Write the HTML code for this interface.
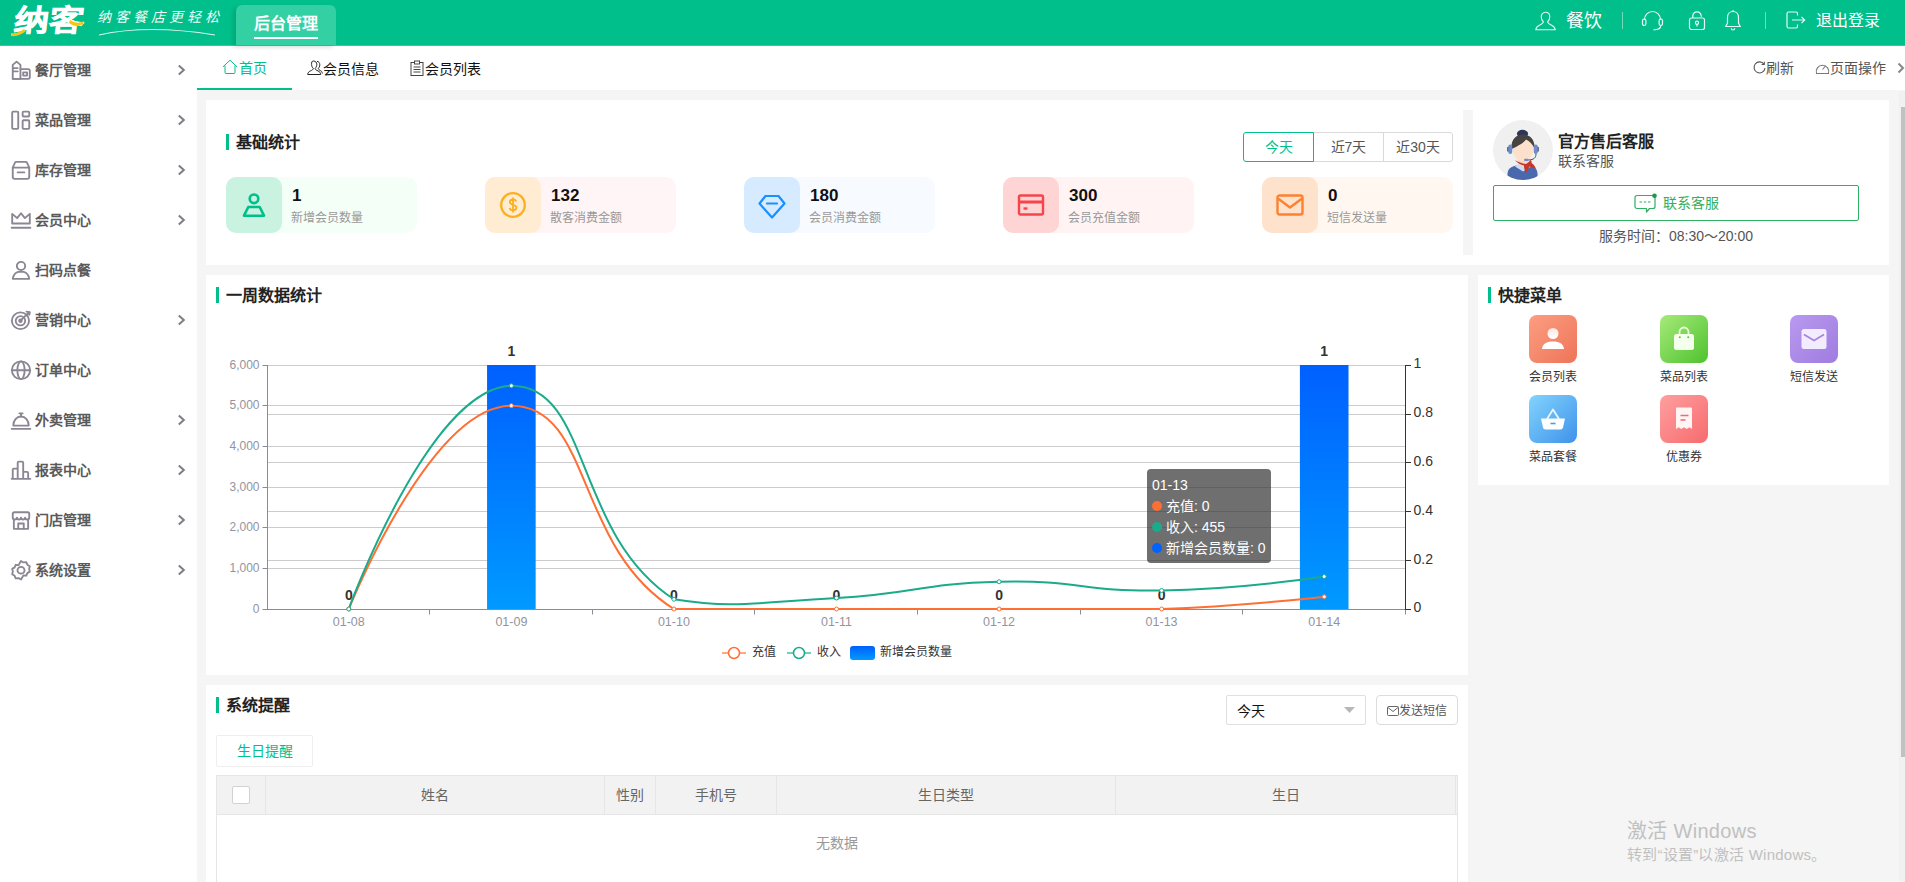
<!DOCTYPE html>
<html lang="zh-CN">
<head>
<meta charset="utf-8">
<title>后台管理</title>
<style>
*{box-sizing:border-box;margin:0;padding:0}
html,body{width:1905px;height:882px;overflow:hidden;background:#f5f5f5}
body{font-family:"Liberation Sans",sans-serif;font-size:14px;color:#333;position:relative}
.abs{position:absolute}
.serif{font-family:"Liberation Serif",serif;font-weight:bold}
svg{display:block;overflow:visible}

/* header */
#hd{position:absolute;left:0;top:0;width:1905px;height:46px;background:#00bf8b;border-bottom:1px solid #3fd268;z-index:5}
#hd .tab{position:absolute;left:236px;top:5px;width:100px;height:40px;background:#33d0a3;border-radius:6px 6px 0 0;box-shadow:-3px 2px 4px rgba(0,60,40,.18);color:#fff;font-size:16px;font-weight:bold;text-align:center;line-height:38px}
#hd .tab i{position:absolute;left:18px;top:32px;width:64px;height:2px;background:#fff}
#hd .t{position:absolute;color:#fff;white-space:nowrap}
#hd .sep{position:absolute;top:12px;width:1px;height:17px;background:rgba(255,255,255,.45)}

/* sidebar */
#sb{position:absolute;left:0;top:45px;width:197px;height:837px;background:#fff}
#sb .it{position:absolute;left:0;width:197px;height:50px}
#sb .it svg.ic{position:absolute;left:10px;top:14px}
#sb .it span{position:absolute;left:35px;top:0;line-height:50px;font-size:14px;font-weight:bold;color:#5a5a5a;white-space:nowrap}
#sb .it svg.ch{position:absolute;left:177px;top:19px}

/* tab bar */
#tb{position:absolute;left:197px;top:45px;width:1708px;height:45px;background:#fff}
#tb .t{position:absolute;white-space:nowrap;font-size:14px;line-height:20px}
#tb .ul{position:absolute;left:0;top:43px;width:95px;height:2px;background:#00bf8b}

.panel{position:absolute;background:#fff}
.ttl{position:absolute;font-size:16px;line-height:20px;color:#222;white-space:nowrap}
.bar{position:absolute;width:3px;height:16px;background:#00bf8b}

/* stats */
.sc{position:absolute;top:77px;width:191px;height:56px;border-radius:10px}
.sc .ib{position:absolute;left:0;top:0;width:56px;height:56px;border-radius:10px}
.sc .ib svg{position:absolute;left:14px;top:14px}
.sc b{position:absolute;left:66px;top:9px;font-size:17px;line-height:20px;color:#111}
.sc span{position:absolute;left:65px;top:33px;font-size:12px;line-height:16px;color:#999;white-space:nowrap}
.bg{position:absolute;top:32px;left:1037px;width:210px;height:30px}
.bg div{position:absolute;top:0;width:71px;height:30px;border:1px solid #d9d9d9;background:#fff;text-align:center;line-height:28px;font-size:14px;color:#555}

#tip i{display:inline-block;width:10px;height:10px;border-radius:5px;margin-right:4px}

/* quick */
.qi{position:absolute;width:48px;height:48px;border-radius:8px}
.qi svg{position:absolute;left:0;top:0}
.ql{position:absolute;width:120px;text-align:center;font-size:12px;line-height:16px;color:#333;white-space:nowrap}
/* reminders */
#tbl{position:absolute;left:10px;top:90px;width:1242px;height:120px;border:1px solid #e6e6e6;background:#fff}
#tbl .h{position:absolute;left:0;top:0;width:1240px;height:39px;background:#f2f2f2;border-bottom:1px solid #e6e6e6}
#tbl .h div{position:absolute;top:0;height:38px;border-right:1px solid #e6e6e6;text-align:center;line-height:38px;font-size:14px;color:#666}
</style>
</head>
<body>

<!-- ================= HEADER ================= -->
<div id="hd">
  <div class="t" style="left:12px;top:3px;font-size:30px;line-height:36px;font-weight:bold;-webkit-text-stroke:.6px #fff;transform:scaleX(1.16) skewX(-6deg);transform-origin:0 100%">纳客</div>
  <svg class="abs" style="left:10px;top:18px" width="76" height="20" viewBox="0 0 76 20"><path d="M1 15 Q8 16 14 11 L16 13 Q9 19 1 18Z" fill="#f5c518"/><path d="M60 2 Q67 7 74 3 L73 6 Q66 11 59 5Z" fill="#f5c518"/></svg>
  <div class="t serif" style="left:97px;top:8px;font-size:14px;line-height:20px;font-style:italic;font-weight:normal;letter-spacing:4px;opacity:.92">纳客餐店更轻松</div>
  <svg class="abs" style="left:98px;top:27px" width="120" height="10" viewBox="0 0 120 10"><path d="M1 8 Q50 -3 117 8" fill="none" stroke="#fff" stroke-width="1.2" stroke-opacity=".85"/></svg>
  <div class="tab">后台管理<i></i></div>
  <svg class="abs" style="left:1535px;top:11px" width="21" height="20" viewBox="0 0 21 20" fill="none" stroke="#fff" stroke-width="1.1" stroke-opacity=".9"><path d="M10.5 1.2c2.6 0 4.3 2 4.3 4.6 0 2.2-1 4-2.2 5 .2 1.6 1.6 2.4 4 3.4 2 .9 3.4 2 3.6 4.6H.8c.2-2.6 1.600-3.700 3.600-4.600 2.400-1 3.800-1.800 4-3.400-1.200-1-2.200-2.800-2.200-5 0-2.600 1.700-4.600 4.300-4.600z"/></svg>
  <div class="t" style="left:1566px;top:9px;font-size:18px;line-height:24px">餐饮</div>
  <div class="sep" style="left:1622px"></div>
  <svg class="abs" style="left:1641px;top:10px" width="23" height="21" viewBox="0 0 23 21" fill="none" stroke="#fff" stroke-width="1.2" stroke-opacity=".9"><path d="M3.500 9.500a8 8 0 0 1 16 0"/><rect x="1.500" y="9" width="3.400" height="6.500" rx="1.700"/><rect x="18.100" y="9" width="3.400" height="6.500" rx="1.700"/><path d="M19.800 15.500c0 3-3 4.300-7.300 4.300"/></svg>
  <svg class="abs" style="left:1688px;top:11px" width="18" height="20" viewBox="0 0 18 20" fill="none" stroke="#fff" stroke-width="1.2" stroke-opacity=".9"><rect x="1.500" y="7" width="15" height="11.500" rx="2"/><path d="M4.800 7V5a4.200 4.200 0 0 1 8.400 0v.8"/><circle cx="9" cy="11.800" r="1.600"/><path d="M9 13.400v2"/></svg>
  <svg class="abs" style="left:1724px;top:9px" width="18" height="22" viewBox="0 0 18 22" fill="none" stroke="#fff" stroke-width="1.200" stroke-opacity=".9"><path d="M9 1v1.500M9 2.500c-3.300 0-5.500 2.500-5.500 6v5.500L1.800 17.500h14.400L14.500 14V8.500c0-3.500-2.200-6-5.500-6z"/><path d="M7.300 19.300a1.700 1.700 0 0 0 3.400 0"/></svg>
  <div class="sep" style="left:1765px"></div>
  <svg class="abs" style="left:1786px;top:11px" width="20" height="18" viewBox="0 0 20 18" fill="none" stroke="#fff" stroke-width="1.200" stroke-opacity=".9"><path d="M11.500 4.500V2.500a1.500 1.500 0 0 0-1.500-1.500H2.500A1.500 1.500 0 0 0 1 2.500v13A1.500 1.500 0 0 0 2.500 17H10a1.500 1.500 0 0 0 1.500-1.500v-2"/><path d="M6 9h12.500M15.500 5.800L18.700 9l-3.200 3.200"/></svg>
  <div class="t" style="left:1816px;top:10px;font-size:16px;line-height:22px">退出登录</div>
</div>

<!-- ================= SIDEBAR ================= -->
<div id="sb">
<div class="it" style="top:0px"><svg class="ic" width="22" height="22.500" preserveAspectRatio="none" viewBox="0 0 20 21" fill="none" stroke="#8b8693" stroke-width="1.7" stroke-linejoin="round" stroke-linecap="round"><path d="M2.500 18.500V5.500l3.500-3 3.500 3v13z"/><path d="M3 8.500h4M3 11.500h4"/><path d="M9.500 9.500h7a1.500 1.500 0 0 1 1.500 1.500v6a1.500 1.500 0 0 1-1.500 1.500h-14"/><rect x="12" y="12.500" width="3.500" height="3"/></svg><span>餐厅管理</span><svg class="ch" width="9" height="12" viewBox="0 0 9 12"><path d="M1.800 1.500L6.800 6 1.800 10.500" fill="none" stroke="#7d7d85" stroke-width="2"/></svg></div>
<div class="it" style="top:50px"><svg class="ic" width="22" height="22.500" preserveAspectRatio="none" viewBox="0 0 20 21" fill="none" stroke="#8b8693" stroke-width="1.7" stroke-linejoin="round" stroke-linecap="round"><rect x="2" y="2.500" width="5.500" height="16" rx="0.800"/><rect x="11.500" y="2.500" width="6" height="4.500" rx="0.800"/><rect x="11.500" y="10.500" width="6" height="8" rx="0.800"/></svg><span>菜品管理</span><svg class="ch" width="9" height="12" viewBox="0 0 9 12"><path d="M1.800 1.500L6.800 6 1.800 10.500" fill="none" stroke="#7d7d85" stroke-width="2"/></svg></div>
<div class="it" style="top:100px"><svg class="ic" width="22" height="22.500" preserveAspectRatio="none" viewBox="0 0 20 21" fill="none" stroke="#8b8693" stroke-width="1.7" stroke-linejoin="round" stroke-linecap="round"><path d="M2.500 8l2-4.500a1.500 1.500 0 0 1 1.300-.8h8.400a1.500 1.500 0 0 1 1.300.8l2 4.500z"/><path d="M2.500 8v8.500a2 2 0 0 0 2 2h11a2 2 0 0 0 2-2V8"/><path d="M7 12.500h6"/></svg><span>库存管理</span><svg class="ch" width="9" height="12" viewBox="0 0 9 12"><path d="M1.800 1.500L6.800 6 1.800 10.500" fill="none" stroke="#7d7d85" stroke-width="2"/></svg></div>
<div class="it" style="top:150px"><svg class="ic" width="22" height="22.500" preserveAspectRatio="none" viewBox="0 0 20 21" fill="none" stroke="#8b8693" stroke-width="1.7" stroke-linejoin="round" stroke-linecap="round"><path d="M2 13.500V4.500l4.500 4L10 4l3.500 4.500 4.500-4v9z"/><path d="M1.500 17.500h17"/></svg><span>会员中心</span><svg class="ch" width="9" height="12" viewBox="0 0 9 12"><path d="M1.800 1.500L6.800 6 1.800 10.500" fill="none" stroke="#7d7d85" stroke-width="2"/></svg></div>
<div class="it" style="top:200px"><svg class="ic" width="22" height="22.500" preserveAspectRatio="none" viewBox="0 0 20 21" fill="none" stroke="#8b8693" stroke-width="1.7" stroke-linejoin="round" stroke-linecap="round"><circle cx="10" cy="6.500" r="3.800"/><path d="M2.500 18.500c.6-4 3.200-6 5-6.500h5c1.800.5 4.400 2.500 5 6.500z"/></svg><span>扫码点餐</span></div>
<div class="it" style="top:250px"><svg class="ic" width="22" height="22.500" preserveAspectRatio="none" viewBox="0 0 20 21" fill="none" stroke="#8b8693" stroke-width="1.7" stroke-linejoin="round" stroke-linecap="round"><circle cx="9.500" cy="11" r="7.800"/><circle cx="9.500" cy="11" r="4.300"/><circle cx="9.500" cy="11" r="1.200" fill="#8b8693"/><path d="M10.500 10l6.500-6.500M15 2.500l3 .5-.5 2.500"/></svg><span>营销中心</span><svg class="ch" width="9" height="12" viewBox="0 0 9 12"><path d="M1.800 1.500L6.800 6 1.800 10.500" fill="none" stroke="#7d7d85" stroke-width="2"/></svg></div>
<div class="it" style="top:300px"><svg class="ic" width="22" height="22.500" preserveAspectRatio="none" viewBox="0 0 20 21" fill="none" stroke="#8b8693" stroke-width="1.7" stroke-linejoin="round" stroke-linecap="round"><circle cx="10" cy="10.500" r="8.300"/><ellipse cx="10" cy="10.500" rx="3.300" ry="8.300"/><path d="M1.700 10.500h16.600"/></svg><span>订单中心</span></div>
<div class="it" style="top:350px"><svg class="ic" width="22" height="22.500" preserveAspectRatio="none" viewBox="0 0 20 21" fill="none" stroke="#8b8693" stroke-width="1.7" stroke-linejoin="round" stroke-linecap="round"><path d="M3 15.500c0-5 3-8.500 7-8.500s7 3.500 7 8.500z"/><path d="M8.500 4h3M10 4v3M1.500 18.500h17"/></svg><span>外卖管理</span><svg class="ch" width="9" height="12" viewBox="0 0 9 12"><path d="M1.800 1.500L6.800 6 1.800 10.500" fill="none" stroke="#7d7d85" stroke-width="2"/></svg></div>
<div class="it" style="top:400px"><svg class="ic" width="22" height="22.500" preserveAspectRatio="none" viewBox="0 0 20 21" fill="none" stroke="#8b8693" stroke-width="1.7" stroke-linejoin="round" stroke-linecap="round"><path d="M2.500 18.500v-8.500a1 1 0 0 1 1-1h3.500v9.500M7 18.500V3.500a1 1 0 0 1 1-1h3a1 1 0 0 1 1 1v15M12 18.500V12h3.500a1 1 0 0 1 1 1v5.500M1.500 18.500h17"/></svg><span>报表中心</span><svg class="ch" width="9" height="12" viewBox="0 0 9 12"><path d="M1.800 1.500L6.800 6 1.800 10.500" fill="none" stroke="#7d7d85" stroke-width="2"/></svg></div>
<div class="it" style="top:450px"><svg class="ic" width="22" height="22.500" preserveAspectRatio="none" viewBox="0 0 20 21" fill="none" stroke="#8b8693" stroke-width="1.7" stroke-linejoin="round" stroke-linecap="round"><path d="M2.500 4.500a1.500 1.500 0 0 1 1.500-1.500h12a1.500 1.500 0 0 1 1.500 1.500V8c0 1-.8 1.800-1.900 1.800S13.700 9 13.700 8c0 1-.8 1.800-1.850 1.800S10 9 10 8c0 1-.8 1.800-1.850 1.800S6.300 9 6.300 8c0 1-.8 1.800-1.900 1.800S2.500 9 2.500 8z"/><path d="M3.500 10v8.500h13V10"/><path d="M7.500 18.500V13.500h5v5"/></svg><span>门店管理</span><svg class="ch" width="9" height="12" viewBox="0 0 9 12"><path d="M1.800 1.500L6.800 6 1.800 10.500" fill="none" stroke="#7d7d85" stroke-width="2"/></svg></div>
<div class="it" style="top:500px"><svg class="ic" width="22" height="22.500" preserveAspectRatio="none" viewBox="0 0 20 21" fill="none" stroke="#8b8693" stroke-width="1.7" stroke-linejoin="round" stroke-linecap="round"><path d="M10 1.800l2.200 1.400 2.600-.3 1 2.400 2.200 1.400-.6 2.500.6 2.600-2.200 1.400-1 2.400-2.600-.3L10 19.200l-2.200-1.400-2.600.3-1-2.400L2 14.300l.600-2.600L2 9.200l2.200-1.400 1-2.400 2.600.3z" transform="translate(0 0)"/><circle cx="10" cy="10.500" r="3.200"/></svg><span>系统设置</span><svg class="ch" width="9" height="12" viewBox="0 0 9 12"><path d="M1.800 1.500L6.800 6 1.800 10.500" fill="none" stroke="#7d7d85" stroke-width="2"/></svg></div>
</div>

<!-- ================= TAB BAR ================= -->
<div id="tb">
<div class="ul"></div>
<svg class="abs" style="left:25px;top:14px" width="16" height="16" viewBox="0 0 16 16" fill="none" stroke="#00bf8b" stroke-width="1"><path d="M1 7.800L8 1.200l7 6.600M3 6.500v7a1 1 0 0 0 1 1h8a1 1 0 0 0 1-1v-7"/></svg>
<div class="t" style="left:42px;top:13px;color:#00bf8b">首页</div>
<svg class="abs" style="left:110px;top:15px" width="16" height="16" viewBox="0 0 16 16" fill="none" stroke="#222" stroke-width="1"><path d="M6.500 1c2 0 3.300 1.500 3.300 3.600 0 1.700-.8 3-1.700 3.800.1 1.200 1.200 1.800 3 2.600 1.500.7 2.400 1.500 2.600 3.500H.700c.2-2 1.100-2.800 2.600-3.500 1.800-.8 2.900-1.400 3-2.600-.9-.8-1.700-2.100-1.700-3.800C4.600 2.500 4.500 1 6.500 1z"/><path d="M10 1.300c1.700.2 2.800 1.600 2.800 3.500 0 1.600-.7 2.800-1.500 3.600.1 1 1 1.600 2.300 2.300 1 .6 1.600 1.300 1.700 2.800"/></svg>
<div class="t" style="left:126px;top:14px;color:#111">会员信息</div>
<svg class="abs" style="left:213px;top:15px" width="14" height="16" viewBox="0 0 14 16" fill="none" stroke="#444" stroke-width="1"><rect x="1" y="2.500" width="12" height="13"/><rect x="4.500" y="1" width="5" height="3" fill="#fff"/><path d="M3.500 7h7M3.500 9.500h7M3.500 12h7"/></svg>
<div class="t" style="left:228px;top:14px;color:#111">会员列表</div>
<svg class="abs" style="left:1556px;top:16px" width="13" height="14" viewBox="0 0 13 14" fill="none" stroke="#555" stroke-width="1.1"><path d="M11 3.200A5.500 5.500 0 1 0 12 7"/><path d="M11.300 .8v2.700H8.600"/></svg>
<div class="t" style="left:1569px;top:13px;color:#555">刷新</div>
<svg class="abs" style="left:1618px;top:16px" width="15" height="14" viewBox="0 0 15 14" fill="none" stroke="#777" stroke-width="1.1"><path d="M1.500 12.500A6.300 6.300 0 1 1 13.500 12.500z"/><path d="M7.500 8.500l3-3.500"/></svg>
<div class="t" style="left:1633px;top:13px;color:#555">页面操作</div>
<svg class="abs" style="left:1700px;top:17px" width="8" height="12" viewBox="0 0 8 12"><path d="M1.500 1.500L6 6 1.500 10.500" fill="none" stroke="#888" stroke-width="2"/></svg>
</div>

<!-- ================= STATS PANEL ================= -->
<div class="panel" id="p1" style="left:206px;top:100px;width:1683px;height:165px">
<div class="bar" style="left:20px;top:34px"></div>
<div class="ttl serif" style="left:30px;top:33px">基础统计</div>
<div class="bg">
  <div style="left:70px">近7天</div>
  <div style="left:140px;width:70px;border-radius:0 3px 3px 0">近30天</div>
  <div style="left:0;border-color:#00bf8b;color:#00bf8b;border-radius:3px 0 0 3px">今天</div>
</div>

<div class="sc" style="left:20px;background:#f4fff8"><div class="ib" style="background:#c9f2e1"><svg width="28" height="28" viewBox="0 0 28 28" fill="none" stroke="#00bf8b" stroke-width="2.600" stroke-linejoin="round"><circle cx="14" cy="7.800" r="4.300"/><path d="M8.300 16h11.400l4.300 8.700H4z"/></svg></div><b>1</b><span>新增会员数量</span></div>

<div class="sc" style="left:279px;background:#fff5f7"><div class="ib" style="background:#ffecd2"><svg width="28" height="28" viewBox="0 0 28 28" fill="none" stroke="#fbb01f" stroke-width="2.300"><circle cx="14" cy="14" r="11.800"/><path d="M17.200 10.400c-.5-1.300-1.700-1.900-3.200-1.900-1.800 0-3.200 1-3.200 2.600 0 3.600 6.600 1.700 6.600 5.500 0 1.600-1.400 2.700-3.400 2.700-1.700 0-3-.8-3.500-2.200M14 6.500v15" stroke-width="1.800"/></svg></div><b>132</b><span>散客消费金额</span></div>

<div class="sc" style="left:538px;background:#f7fafe"><div class="ib" style="background:#d6ebff"><svg width="28" height="28" viewBox="0 0 28 28" fill="none" stroke="#1890ff" stroke-width="2.200" stroke-linejoin="round"><path d="M7.500 5h13l6 7.500L14 26.500 1.500 12.500z"/><path d="M9 12.500h10" stroke-linecap="round"/></svg></div><b>180</b><span>会员消费金额</span></div>

<div class="sc" style="left:797px;background:#fff4f3"><div class="ib" style="background:#ffd4d4"><svg width="28" height="28" viewBox="0 0 28 28" fill="none" stroke="#f5454b" stroke-width="2.400" stroke-linejoin="round"><rect x="2" y="4.500" width="24" height="19" rx="1.500"/><path d="M2 11h24" stroke-width="3"/><path d="M6.500 17.500h4" stroke-width="2.400"/></svg></div><b>300</b><span>会员充值金额</span></div>

<div class="sc" style="left:1056px;background:#fff7f0"><div class="ib" style="background:#ffe2cc"><svg width="28" height="28" viewBox="0 0 28 28" fill="none" stroke="#fa8231" stroke-width="2.400" stroke-linejoin="round"><rect x="1.500" y="4.500" width="25" height="19" rx="2"/><path d="M2 7.500l12 9 12-9"/></svg></div><b>0</b><span>短信发送量</span></div>

<div class="abs" style="left:1257px;top:10px;width:10px;height:145px;background:#f5f5f5"></div>

<div class="abs" style="left:1287px;top:20px;width:60px;height:60px;border-radius:30px;background:#f0f0f0;overflow:hidden">
<svg width="60" height="60" viewBox="0 0 60 60">
 <ellipse cx="29.500" cy="13.800" rx="5.600" ry="4" fill="#2b3658"/>
 <path d="M14.500 54c0-6 5-9 15.500-9s14.500 3 14.500 9v6H14.500z" fill="#4a69ad"/>
 <path d="M22 46.500c2-2.500 5-3.500 8-3.500s6 1 8 3.500l-8 5z" fill="#c9dcf6"/>
 <path d="M25 38h10v6l-5 3-5-3z" fill="#f9d5bd"/>
 <ellipse cx="30" cy="29.500" rx="10.300" ry="11.500" fill="#fde0cc"/>
 <path d="M18.500 29c-.8-8.500 4-14.500 11.500-14.500S42.300 20.500 41.500 29c-1.500-4.500-5-8-8.500-9.500-1.500 2.500-6.500 6-14.500 9.500z" fill="#474341"/>
 <rect x="15.200" y="24.500" width="4" height="9.500" rx="2" fill="#6f8cc9"/><rect x="40.800" y="24.500" width="4" height="9.500" rx="2" fill="#6f8cc9"/>
 <path d="M14.800 27v4.500M45.200 27v4.500" stroke="#46557c" stroke-width="1.300"/>
 <path d="M43 34c0 4-2.500 5.600-7 6" fill="none" stroke="#3a4a70" stroke-width="1"/><rect x="31" y="38.800" width="5" height="2.300" rx="1.100" fill="#6f8cc9"/>
 <path d="M22 40c3 2 7 3.500 11 4 2-1.500 4-3 5-4.500l.8 3.700c2 1.300 3.500 3.300 4.200 5.800l-6.500-2.500-3.500 6.500c-1.500-2.500-2-5-2-7.500-3.500-.8-7-2.500-9-5.500z" fill="#c7352b"/>
</svg></div>
<div class="ttl serif" style="left:1352px;top:32px">官方售后客服</div>
<div class="abs" style="left:1352px;top:51px;font-size:14px;line-height:20px;color:#555">联系客服</div>
<div class="abs" style="left:1287px;top:85px;width:366px;height:36px;border:1px solid #2eaf62;border-radius:2px;background:#fff"></div>
<svg class="abs" style="left:1428px;top:93px" width="24" height="21" viewBox="0 0 24 21" fill="none" stroke="#2eaf62" stroke-width="1.200"><path d="M3 2.500h16a2 2 0 0 1 2 2v9a2 2 0 0 1-2 2h-3.500l-3 3.500v-3.500H3a2 2 0 0 1-2-2v-9a2 2 0 0 1 2-2z" stroke-linejoin="round"/><path d="M5.500 9h2.500M9.700 9h2.600M14 9h2.500"/><circle cx="20.500" cy="2.700" r="2.300" fill="#1c9a4a" stroke="none"/></svg>
<div class="abs" style="left:1457px;top:93px;font-size:14px;line-height:20px;color:#2eaf62">联系客服</div>
<div class="abs" style="left:1287px;top:126px;width:366px;text-align:center;font-size:14px;line-height:20px;color:#555;white-space:nowrap">服务时间：08:30～20:00</div>

</div>

<!-- ================= CHART PANEL ================= -->
<div class="panel" id="p2" style="left:206px;top:275px;width:1262px;height:400px">
<div class="bar" style="left:10px;top:12px"></div>
<div class="ttl serif" style="left:20px;top:11px">一周数据统计</div>
<svg class="abs" style="left:0;top:0" width="1261" height="400" viewBox="206 275 1261 400" font-family="Liberation Sans, sans-serif">
<defs><linearGradient id="bg" x1="0" y1="0" x2="0" y2="1"><stop offset="0" stop-color="#0060ff"/><stop offset="1" stop-color="#009aff"/></linearGradient></defs>
<path d="M267.5 365.5H1405.5M267.5 405.5H1405.5M267.5 446.5H1405.5M267.5 487.5H1405.5M267.5 527.5H1405.5M267.5 568.5H1405.5M267.5 414.5H1405.5M267.5 462.5H1405.5M267.5 511.5H1405.5M267.5 560.5H1405.5" stroke="#ccc" stroke-width="1"/>
<rect x="487.06" y="365.0" width="48.6" height="244.0" fill="url(#bg)"/>
<rect x="1299.91" y="365.0" width="48.6" height="244.0" fill="url(#bg)"/>
<path d="M267.5 365.0V609.5M262.5 609.5H1405.5M429.5 609.5v5M592.5 609.5v5M754.5 609.5v5M917.5 609.5v5M1080.5 609.5v5M1242.5 609.5v5M1405.5 609.5v5M262.5 365.5h5M262.5 405.5h5M262.5 446.5h5M262.5 487.5h5M262.5 527.5h5M262.5 568.5h5" stroke="#8a8a99" stroke-width="1" fill="none"/>
<path d="M1405.5 365.0V610.0M1405.5 365.5h5.5M1405.5 414.5h5.5M1405.5 462.5h5.5M1405.5 511.5h5.5M1405.5 560.5h5.5M1405.5 609.5h5.5" stroke="#333" stroke-width="1" fill="none"/>
<text x="259.500" y="368.5" text-anchor="end" font-size="12" fill="#93939f">6,000</text>
<text x="259.500" y="409.2" text-anchor="end" font-size="12" fill="#93939f">5,000</text>
<text x="259.500" y="449.8" text-anchor="end" font-size="12" fill="#93939f">4,000</text>
<text x="259.500" y="490.5" text-anchor="end" font-size="12" fill="#93939f">3,000</text>
<text x="259.500" y="531.2" text-anchor="end" font-size="12" fill="#93939f">2,000</text>
<text x="259.500" y="571.8" text-anchor="end" font-size="12" fill="#93939f">1,000</text>
<text x="259.500" y="612.5" text-anchor="end" font-size="12" fill="#93939f">0</text>
<text x="1413.500" y="368.3" font-size="14" fill="#333">1</text>
<text x="1413.500" y="417.1" font-size="14" fill="#333">0.8</text>
<text x="1413.500" y="465.9" font-size="14" fill="#333">0.6</text>
<text x="1413.500" y="514.7" font-size="14" fill="#333">0.4</text>
<text x="1413.500" y="563.5" font-size="14" fill="#333">0.2</text>
<text x="1413.500" y="612.3" font-size="14" fill="#333">0</text>
<text x="348.8" y="625.500" text-anchor="middle" font-size="12.500" fill="#93939f">01-08</text>
<text x="511.4" y="625.500" text-anchor="middle" font-size="12.500" fill="#93939f">01-09</text>
<text x="673.9" y="625.500" text-anchor="middle" font-size="12.500" fill="#93939f">01-10</text>
<text x="836.5" y="625.500" text-anchor="middle" font-size="12.500" fill="#93939f">01-11</text>
<text x="999.1" y="625.500" text-anchor="middle" font-size="12.500" fill="#93939f">01-12</text>
<text x="1161.6" y="625.500" text-anchor="middle" font-size="12.500" fill="#93939f">01-13</text>
<text x="1324.2" y="625.500" text-anchor="middle" font-size="12.500" fill="#93939f">01-14</text>
<text x="348.8" y="599.5" text-anchor="middle" font-size="14" font-weight="bold" fill="#333">0</text>
<text x="511.4" y="356" text-anchor="middle" font-size="14" font-weight="bold" fill="#333">1</text>
<text x="673.9" y="599.5" text-anchor="middle" font-size="14" font-weight="bold" fill="#333">0</text>
<text x="836.5" y="599.5" text-anchor="middle" font-size="14" font-weight="bold" fill="#333">0</text>
<text x="999.1" y="599.5" text-anchor="middle" font-size="14" font-weight="bold" fill="#333">0</text>
<text x="1161.6" y="599.5" text-anchor="middle" font-size="14" font-weight="bold" fill="#333">0</text>
<text x="1324.2" y="356" text-anchor="middle" font-size="14" font-weight="bold" fill="#333">1</text>
<path d="M348.79 609.00 C348.79 609.00 430.07 405.67 511.36 405.67 C592.64 405.67 573.85 546.42 673.93 609.00 C736.42 609.00 755.21 609.00 836.50 609.00 C917.79 609.00 917.79 609.00 999.07 609.00 C1080.36 609.00 1080.47 609.00 1161.64 609.00 C1243.04 605.95 1324.21 596.80 1324.21 596.80" fill="none" stroke="#ff6e33" stroke-width="2"/>
<path d="M348.79 609.00 C348.79 609.00 428.90 388.22 511.36 385.74 C591.47 385.74 572.69 533.14 673.93 599.24 C735.26 609.00 755.42 602.38 836.50 598.02 C917.99 593.64 917.64 583.64 999.07 581.75 C1080.21 579.88 1080.45 591.82 1161.64 590.50 C1243.02 589.17 1324.21 576.47 1324.21 576.47" fill="none" stroke="#1aab8a" stroke-width="2"/>
<circle cx="348.79" cy="609.00" r="2" fill="#fff" stroke="#ff6e33" stroke-width="1"/>
<circle cx="511.36" cy="405.67" r="2" fill="#fff" stroke="#ff6e33" stroke-width="1"/>
<circle cx="673.93" cy="609.00" r="2" fill="#fff" stroke="#ff6e33" stroke-width="1"/>
<circle cx="836.50" cy="609.00" r="2" fill="#fff" stroke="#ff6e33" stroke-width="1"/>
<circle cx="999.07" cy="609.00" r="2" fill="#fff" stroke="#ff6e33" stroke-width="1"/>
<circle cx="1161.64" cy="609.00" r="2" fill="#fff" stroke="#ff6e33" stroke-width="1"/>
<circle cx="1324.21" cy="596.80" r="2" fill="#fff" stroke="#ff6e33" stroke-width="1"/>
<circle cx="348.79" cy="609.00" r="2" fill="#fff" stroke="#1aab8a" stroke-width="1"/>
<circle cx="511.36" cy="385.74" r="2" fill="#fff" stroke="#1aab8a" stroke-width="1"/>
<circle cx="673.93" cy="599.24" r="2" fill="#fff" stroke="#1aab8a" stroke-width="1"/>
<circle cx="836.50" cy="598.02" r="2" fill="#fff" stroke="#1aab8a" stroke-width="1"/>
<circle cx="999.07" cy="581.75" r="2" fill="#fff" stroke="#1aab8a" stroke-width="1"/>
<circle cx="1161.64" cy="590.50" r="2" fill="#fff" stroke="#1aab8a" stroke-width="1"/>
<circle cx="1324.21" cy="576.47" r="2" fill="#fff" stroke="#1aab8a" stroke-width="1"/>
<path d="M722 653h24" stroke="#ff6e33" stroke-width="2" stroke-opacity=".6"/><circle cx="734" cy="653" r="5.500" fill="#fff" stroke="#ff6e33" stroke-width="1.500"/>
<text x="752" y="656" font-size="12" fill="#333">充值</text>
<path d="M787 653h24" stroke="#1aab8a" stroke-width="2" stroke-opacity=".6"/><circle cx="799" cy="653" r="5.500" fill="#fff" stroke="#1aab8a" stroke-width="1.500"/>
<text x="817" y="656" font-size="12" fill="#333">收入</text>
<rect x="850" y="646" width="25" height="14" rx="3" fill="url(#bg)"/>
<text x="880" y="656" font-size="12" fill="#333">新增会员数量</text>
</svg>
<div class="abs" id="tip" style="left:941px;top:194px;width:124px;height:94px;background:rgba(50,50,50,.7);border-radius:4px;color:#fff;font-size:14px;line-height:21px;padding:6px 5px 4px;white-space:nowrap">01-13<br><i style="background:#ff6e33"></i>充值: 0<br><i style="background:#1aab8a"></i>收入: 455<br><i style="background:#0062ff"></i>新增会员数量: 0</div>
</div>

<!-- ================= QUICK MENU ================= -->
<div class="panel" id="p3" style="left:1478px;top:275px;width:411px;height:210px">
<div class="bar" style="left:10px;top:12px"></div>
<div class="ttl serif" style="left:20px;top:11px">快捷菜单</div>

<div class="qi" style="left:51px;top:40px;background:linear-gradient(135deg,#fc9e82,#ee7458)"><svg width="48" height="48" viewBox="0 0 48 48"><defs><linearGradient id="w1" x1="0" y1="0" x2="0" y2="1"><stop offset="0" stop-color="#fff" stop-opacity=".78"/><stop offset="1" stop-color="#fff"/></linearGradient></defs><circle cx="24" cy="18.500" r="5.500" fill="url(#w1)"/><path d="M13 34c.7-5.500 4.500-7.500 11-7.500S34.300 28.500 35 34z" fill="#fff"/></svg></div>
<div class="ql" style="left:15px;top:94px">会员列表</div>

<div class="qi" style="left:182px;top:40px;background:linear-gradient(135deg,#a6ea7a,#4ec22e)"><svg width="48" height="48" viewBox="0 0 48 48" fill="none"><path d="M19.500 19v-2a4.500 4.500 0 0 1 9 0v2" stroke="#e9fbdc" stroke-width="1.800"/><rect x="14" y="19" width="20" height="16" rx="2.500" fill="#f4ffec"/><circle cx="19.800" cy="22.300" r="1" fill="#5ac83a"/><circle cx="28.200" cy="22.300" r="1" fill="#5ac83a"/></svg></div>
<div class="ql" style="left:146px;top:94px">菜品列表</div>

<div class="qi" style="left:312px;top:40px;background:linear-gradient(135deg,#b999f0,#9f7cdf)"><svg width="48" height="48" viewBox="0 0 48 48" fill="none"><rect x="11.500" y="14" width="25" height="20" rx="2.500" fill="#f3ecff"/><path d="M14 19.500l10 6 10-6" stroke="#a683e4" stroke-width="1.800"/></svg></div>
<div class="ql" style="left:276px;top:94px">短信发送</div>

<div class="qi" style="left:51px;top:120px;background:linear-gradient(135deg,#82d4fd,#3f92ea)"><svg width="48" height="48" viewBox="0 0 48 48" fill="none"><path d="M18 24l6-9.500 6 9.500" stroke="#e8f6ff" stroke-width="1.800" stroke-linejoin="round"/><path d="M12 23.500h24l-2 9a2.500 2.500 0 0 1-2.400 2H16.400a2.500 2.500 0 0 1-2.400-2z" fill="#fff"/><path d="M21.500 28.500h5" stroke="#4a9bef" stroke-width="1.600"/></svg></div>
<div class="ql" style="left:15px;top:174px">菜品套餐</div>

<div class="qi" style="left:182px;top:120px;background:linear-gradient(135deg,#fe9fa0,#f76b6e)"><svg width="48" height="48" viewBox="0 0 48 48" fill="none"><path d="M16 13.500a1 1 0 0 1 1-1h14a1 1 0 0 1 1 1v20.500l-2.700-1.800-2.600 1.800-2.700-1.800-2.700 1.800-2.600-1.800L16 34z" fill="#fff5f5"/><path d="M20.500 20.500h8M20.500 25h5" stroke="#ee6b70" stroke-width="1.600"/></svg></div>
<div class="ql" style="left:146px;top:174px">优惠券</div>

</div>

<!-- ================= REMINDERS ================= -->
<div class="panel" id="p4" style="left:206px;top:685px;width:1262px;height:197px">
<div class="bar" style="left:10px;top:12px"></div>
<div class="ttl serif" style="left:20px;top:11px">系统提醒</div>
<div class="abs" style="left:1020px;top:10px;width:140px;height:30px;border:1px solid #e0e0e0;border-radius:2px;background:#fff;font-size:14px;line-height:31px;padding-left:10px;color:#111;overflow:hidden">今天</div>
<svg class="abs" style="left:1138px;top:22px" width="11" height="6" viewBox="0 0 11 6"><path d="M0 0h11L5.500 6z" fill="#b8b8b8"/></svg>
<div class="abs" style="left:1170px;top:10px;width:82px;height:30px;border:1px solid #dcdcdc;border-radius:4px;background:#fff"></div>
<svg class="abs" style="left:1181px;top:21px" width="12" height="10" viewBox="0 0 12 10" fill="none" stroke="#666" stroke-width="1"><rect x=".5" y=".5" width="11" height="9" rx="1"/><path d="M1 1.500l5 4 5-4"/></svg>
<div class="abs" style="left:1193px;top:18px;font-size:12px;line-height:16px;color:#555;white-space:nowrap">发送短信</div>
<div class="abs" style="left:10px;top:50px;width:97px;height:32px;border:1px solid #eee;border-radius:2px;background:#fff;text-align:center;line-height:30px;font-size:14px;color:#00bf8b">生日提醒</div>
<div id="tbl"><div class="h">
 <div style="left:0;width:49px"><i style="position:absolute;left:15px;top:10px;width:18px;height:18px;border:1px solid #d2d2d2;border-radius:2px;background:#fff"></i></div>
 <div style="left:49px;width:339px">姓名</div>
 <div style="left:388px;width:51px">性别</div>
 <div style="left:439px;width:121px">手机号</div>
 <div style="left:560px;width:339px">生日类型</div>
 <div style="left:899px;width:340px">生日</div>
</div>
<div class="abs" style="left:0;top:57px;width:1239px;text-align:center;font-size:14px;line-height:20px;color:#999">无数据</div>
</div>

</div>

<div class="abs" style="left:1627px;top:818px;font-size:20px;line-height:26px;color:#c0c0c0;letter-spacing:.3px;white-space:nowrap">激活 Windows</div>
<div class="abs" style="left:1627px;top:845px;font-size:15px;line-height:20px;color:#c0c0c0;letter-spacing:.25px;white-space:nowrap">转到“设置”以激活 Windows。</div>
<div class="abs" style="left:1899px;top:91px;width:6px;height:791px;background:#f1f1f1"></div>
<div class="abs" style="left:1901px;top:107px;width:4px;height:650px;background:#c1c1c1"></div>
</body>
</html>
